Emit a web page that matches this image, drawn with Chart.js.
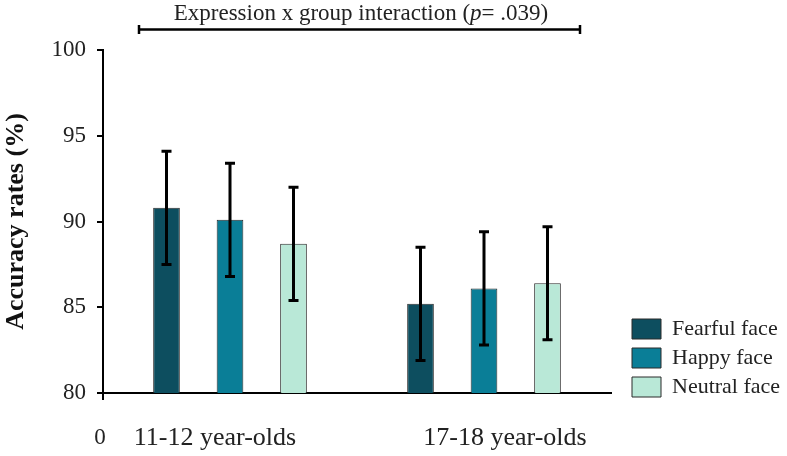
<!DOCTYPE html>
<html>
<head>
<meta charset="utf-8">
<script src="https://cdn.jsdelivr.net/npm/chart.js@4"></script>
<style>
  body { margin: 0; background: #fff; }
  #wrap { width: 787px; height: 456px; }
</style>
</head>
<body>
<div id="wrap"><canvas id="myChart"></canvas></div>
<script>
const groups = ['11-12 year-olds', '17-18 year-olds'];
const fearful = [90.8, 85.2];
const happy = [90.1, 86.1];
const neutral = [88.7, 86.4];
const fearfulErr = [3.3, 3.3];
const happyErr = [3.3, 3.3];
const neutralErr = [3.3, 3.3];
const yTicks = [80, 85, 90, 95, 100];

const serif = '"Liberation Serif", "DejaVu Serif", serif';
const labelShift = [-15, 21]; // las etiquetas del original no estan centradas

// barras de error
const errorBars = {
    id: 'errorBars',
    afterDatasetsDraw(chart) {
        const ctx = chart.ctx;
        const y = chart.scales.y;
        ctx.save();
        ctx.strokeStyle = '#000';
        ctx.lineWidth = 3;
        chart.data.datasets.forEach((ds, i) => {
            chart.getDatasetMeta(i).data.forEach((bar, j) => {
                const top = y.getPixelForValue(ds.data[j] + ds.err[j]);
                const bot = y.getPixelForValue(ds.data[j] - ds.err[j]);
                ctx.beginPath();
                ctx.moveTo(bar.x, top); ctx.lineTo(bar.x, bot);
                ctx.moveTo(bar.x - 5, top); ctx.lineTo(bar.x + 5, top);
                ctx.moveTo(bar.x - 5, bot); ctx.lineTo(bar.x + 5, bot);
                ctx.stroke();
            });
        });
        ctx.restore();
    }
};

// ancho fijo de la leyenda
const legendWidth = {
    id: 'legendWidth',
    beforeInit(chart) {
        const fit = chart.legend.fit;
        chart.legend.fit = function() {
            fit.call(this);
            this.width = 176;
        };
    }
};

// titulo con corchete, etiquetas de grupo y el "0"
const extras = {
    id: 'extras',
    afterLayout(chart) {
        const lg = chart.legend;
        const dy = chart.chartArea.bottom + 12 - lg.bottom;
        lg.left += 14; lg.right += 14; lg.top += dy; lg.bottom += dy;
    },
    afterDraw(chart) {
        const ctx = chart.ctx;
        const x = chart.scales.x;
        const area = chart.chartArea;
        ctx.save();
        ctx.fillStyle = '#222';
        ctx.textBaseline = 'middle';

        // etiquetas del eje x
        ctx.font = '26px ' + serif;
        ctx.textAlign = 'center';
        groups.forEach((g, i) => {
            ctx.fillText(g, x.getPixelForValue(i) + labelShift[i], 438);
        });
        ctx.font = '23px ' + serif;
        ctx.fillText('0', 100, 438);

        // prolongacion del eje y
        ctx.strokeStyle = '#000';
        ctx.lineWidth = 2;
        ctx.beginPath();
        ctx.moveTo(area.left, area.bottom);
        ctx.lineTo(area.left, area.bottom + 7);
        ctx.stroke();

        // corchete
        ctx.lineWidth = 2.5;
        ctx.beginPath();
        ctx.moveTo(139, 29.5); ctx.lineTo(580, 29.5);
        ctx.moveTo(139, 25); ctx.lineTo(139, 34);
        ctx.moveTo(580, 25); ctx.lineTo(580, 34);
        ctx.stroke();

        // texto del titulo, con la p en cursiva
        const parts = [
            ['Expression x group interaction (', '23px ' + serif],
            ['p', 'italic 23px ' + serif],
            ['= .039)', '23px ' + serif]
        ];
        let total = 0;
        parts.forEach(p => { ctx.font = p[1]; total += ctx.measureText(p[0]).width; });
        let cx = 361 - total / 2;
        ctx.textAlign = 'left';
        parts.forEach(p => {
            ctx.font = p[1];
            ctx.fillText(p[0], cx, 14);
            cx += ctx.measureText(p[0]).width;
        });
        ctx.restore();
    }
};

const ctx = document.getElementById('myChart').getContext('2d');
const chart = new Chart(ctx, {
    type: 'bar',
    data: {
        labels: groups,
        datasets: [
            { label: 'Fearful face', data: fearful, err: fearfulErr, backgroundColor: '#0d4e5f' },
            { label: 'Happy face', data: happy, err: happyErr, backgroundColor: '#0a7e97' },
            { label: 'Neutral face', data: neutral, err: neutralErr, backgroundColor: '#b9e8d7' }
        ]
    },
    options: {
        responsive: true,
        maintainAspectRatio: false,
        animation: false,
        devicePixelRatio: 1,
        layout: { padding: { top: 50, left: 0, right: 0, bottom: 0 } },
        datasets: {
            bar: {
                categoryPercentage: 0.75,
                barPercentage: 0.42,
                borderColor: '#2b2b2b',
                borderWidth: 1
            }
        },
        scales: {
            x: {
                grid: { display: false },
                border: { color: '#000', width: 2 },
                ticks: { display: false },
                afterFit(scale) { scale.height = 63; }
            },
            y: {
                min: 80,
                max: 100,
                afterBuildTicks(scale) { scale.ticks = yTicks.map(v => ({ value: v })); },
                grid: { drawOnChartArea: false, drawTicks: true, tickLength: 6, color: '#000', lineWidth: 2 },
                border: { color: '#000', width: 2 },
                ticks: { color: '#222', font: { family: serif, size: 23 }, padding: 11 },
                title: {
                    display: true,
                    text: 'Accuracy rates (%)',
                    color: '#111',
                    font: { family: serif, size: 26, weight: 'bold' },
                    padding: { top: 1, bottom: 10 }
                },
                afterFit(scale) { scale.width = 103; }
            }
        },
        plugins: {
            legend: {
                position: 'right',
                align: 'end',
                labels: {
                    boxWidth: 29,
                    boxHeight: 20,
                    padding: 7,
                    color: '#222',
                    font: { family: serif, size: 22 }
                }
            },
            tooltip: { enabled: false }
        }
    },
    plugins: [legendWidth, errorBars, extras]
});
</script>
</body>
</html>
